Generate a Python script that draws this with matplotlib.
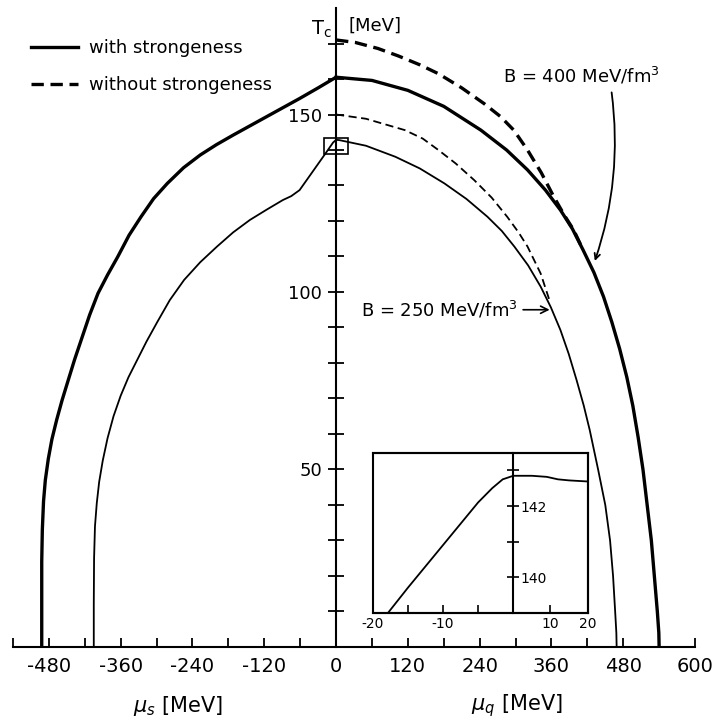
import numpy as np
import matplotlib.pyplot as plt
from matplotlib.patches import Rectangle

plt.rcParams['font.family'] = 'DejaVu Sans'
plt.rcParams['mathtext.fontset'] = 'dejavusans'

# B = 400 MeV/fm^3 with strangeness: mu_s branch (left) and mu_q branch (right)
mus_400 = [0, -30, -61, -116, -172, -200, -227, -255, -282, -305, -326, -346, -365, -382,
           -398, -412, -425, -437, -448, -458, -467, -475, -481, -486, -489, -491, -492, -492]
tc_400_s = [160.5, 157.5, 154.5, 149.4, 144.2, 141.5, 138.6, 135, 130.6, 126.3, 121.2, 116,
            109.9, 104.8, 99.6, 93.5, 87, 81, 75, 69.5, 64, 58.5, 53, 47, 41, 33, 24, 0]
muq_400 = [0, 60, 120, 180, 242, 285, 320, 350, 375, 395, 413, 431, 447, 461, 474, 486, 496,
           505, 513, 520, 527, 532, 537, 539.5, 540]
tc_400_q = [160.5, 159.6, 156.8, 152.3, 145.6, 140, 134.4, 128.7, 123.1, 117.8, 111.8, 105.5,
            98.7, 91.5, 84, 76, 68, 59, 50, 40, 30, 20, 10, 4, 0]

# B = 400 MeV/fm^3 without strangeness
muq_400_ns = [0, 32, 70, 104, 140, 171, 210, 248, 275, 297, 320, 343, 364, 382, 397, 413]
tc_400_ns = [171, 170.3, 168.6, 166.5, 164, 161.5, 157.5, 153, 149.4, 145.6, 140, 133.6,
             126.8, 121.5, 117.5, 111.8]

# B = 250 MeV/fm^3 with strangeness
mus_250 = [0, -5, -17.8, -40, -61, -75, -89, -116, -144, -172, -199, -227, -254, -278, -299,
           -317, -332, -347, -360, -372, -382, -390, -396, -400, -403, -404.5, -405, -405]
tc_250_s = [142.85, 142.1, 139.0, 133.7, 128.7, 127.0, 125.9, 123.2, 120.3, 116.8, 112.8,
            108.4, 103.4, 97.7, 91.5, 86, 81, 76, 70.8, 65, 58.8, 52.5, 46.5, 40.5, 34, 25, 12, 0]
muq_250 = [0, 5, 50, 99, 140, 181, 218, 253, 277, 298, 321, 342, 359, 375, 389, 402, 414,
           424, 438, 450, 458, 463, 466.5, 468.5, 469]
tc_250_q = [142.85, 142.8, 141.2, 138.1, 134.8, 130.6, 126.2, 121.2, 117.2, 112.8, 107.5,
            101.5, 95.7, 89.3, 82.5, 75.2, 68, 61.1, 50, 40, 30, 20, 10, 4, 0]

# B = 250 MeV/fm^3 without strangeness
muq_250_ns = [0, 50, 115, 145, 171, 200, 231, 260, 286, 305, 320, 342, 358]
tc_250_ns = [150, 148.8, 145.6, 143.2, 140, 136.2, 131.5, 126.6, 121.2, 116.8, 112.8, 105.2, 97]

# blow-up of the B = 250 maximum
zoom_mu = [-17.8, -15, -10, -5, -3, -1.5, 0, 5, 9, 12, 15, 20]
zoom_tc = [139.0, 139.7, 140.9, 142.1, 142.5, 142.75, 142.85, 142.85, 142.82, 142.75, 142.72, 142.69]
zoom_xlim = (-20, 20)
zoom_ylim = (139, 143.5)

x_ticks = list(range(-540, 601, 60))
x_labels = [str(t) if t % 120 == 0 else '' for t in x_ticks]
y_ticks = list(range(0, 171, 10))
y_labels = [str(t) if t in (50, 100, 150) else '' for t in y_ticks]

fig = plt.figure(figsize=(7.23, 7.28), dpi=100)
ax = fig.add_axes([0.018, 0.1113, 0.9433, 0.8777])

thick = 2.4
thin = 1.3
ax.plot(mus_400, tc_400_s, color='k', lw=thick, label='with strongeness')
ax.plot(muq_400, tc_400_q, color='k', lw=thick)
ax.plot(muq_400_ns, tc_400_ns, color='k', lw=thick, dashes=(3.7, 2.0), label='without strongeness')
ax.plot(mus_250, tc_250_s, color='k', lw=thin)
ax.plot(muq_250, tc_250_q, color='k', lw=thin)
ax.plot(muq_250_ns, tc_250_ns, color='k', lw=thin, dashes=(4.5, 2.5))

# frame marking the region shown in the inset
ax.add_patch(Rectangle((zoom_xlim[0], zoom_ylim[0]), zoom_xlim[1] - zoom_xlim[0],
                       zoom_ylim[1] - zoom_ylim[0], fill=False, lw=1.2, color='k'))

ax.set_xlim(-540, 600)
ax.set_ylim(0, 180)
for side in ['top', 'right']:
    ax.spines[side].set_visible(False)
ax.spines['left'].set_position(('data', 0))
ax.spines['left'].set_linewidth(1.5)
ax.spines['bottom'].set_linewidth(1.5)

ax.set_xticks(x_ticks)
ax.set_xticklabels(x_labels)
ax.set_yticks(y_ticks)
ax.set_yticklabels(y_labels)
ax.tick_params(axis='x', direction='in', length=6.5, width=1.3, labelsize=14, pad=7)
ax.tick_params(axis='y', direction='inout', length=12, width=1.3, labelsize=13, pad=4)

ax.text(-8, 174, r'$\mathrm{T_c}$', fontsize=14, ha='right', va='center')
ax.text(20, 175, '[MeV]', fontsize=13, ha='left', va='center')
ax.text(-265, -16.5, r'$\mu_s$ [MeV]', fontsize=15, ha='center', va='center', clip_on=False)
ax.text(303, -16.5, r'$\mu_q$ [MeV]', fontsize=15, ha='center', va='center', clip_on=False)

ax.text(411, 161, r'B = 400 MeV/fm$^3$', fontsize=13, ha='center', va='center')
ax.annotate('', xy=(431, 108), xytext=(460, 157),
            arrowprops=dict(arrowstyle='->', lw=1.3, color='k',
                            connectionstyle='arc3,rad=-0.12'))
ax.annotate(r'B = 250 MeV/fm$^3$', xy=(357, 95), xytext=(41, 95), fontsize=13,
            va='center', ha='left',
            arrowprops=dict(arrowstyle='->', lw=1.2, color='k', shrinkA=2, shrinkB=0))

ax.legend(loc='upper left', bbox_to_anchor=(0.043, 0.946), bbox_transform=fig.transFigure,
          frameon=False, fontsize=13, handlelength=2.6, handletextpad=0.6,
          labelspacing=1.05, borderpad=0, borderaxespad=0)

# inset: mu_s side at full scale, mu_q side compressed
ins = fig.add_axes([0.5155, 0.1584, 0.2974, 0.2198])
ins.set_xscale('function', functions=(lambda x: np.where(x < 0, x, x * 0.53),
                                      lambda x: np.where(x < 0, x, x / 0.53)))
ins.plot(zoom_mu, zoom_tc, color='k', lw=1.3)
ins.set_xlim(*zoom_xlim)
ins.set_ylim(*zoom_ylim)
for side in ['top', 'right', 'bottom']:
    ins.spines[side].set_linewidth(1.5)
ins.spines['left'].set_position(('data', 0))
ins.spines['left'].set_linewidth(1.5)
ins.add_patch(Rectangle((0, 0), 1, 1, transform=ins.transAxes, fill=False, lw=1.5,
                        color='k', clip_on=False))
ins.set_xticks([-20, -15, -10, -5, 0, 10, 20])
ins.set_xticklabels(['-20', '', '-10', '', '', '10', '20'])
ins.set_yticks([140, 141, 142, 143])
ins.set_yticklabels(['140', '', '142', ''])
ins.xaxis.set_minor_locator(plt.NullLocator())
ins.tick_params(axis='x', direction='in', length=5.5, width=1.2, labelsize=10, pad=3)
ins.tick_params(axis='y', direction='inout', length=8, width=1.2, labelsize=10, pad=-9)
for lab in ins.get_yticklabels():
    lab.set_horizontalalignment('left')

fig.savefig('out.png', dpi=100)
